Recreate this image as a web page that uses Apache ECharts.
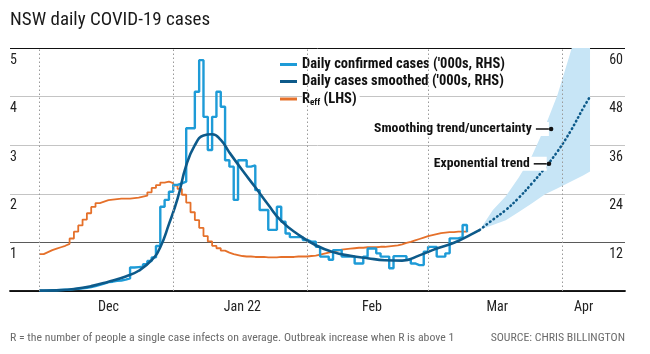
<!DOCTYPE html>
<html>
<head>
<meta charset="utf-8">
<script src="https://cdn.jsdelivr.net/npm/echarts@6/dist/echarts.min.js"></script>
<style>
html, body { margin: 0; padding: 0; background: #fff; }
#chart { width: 650px; height: 354px; }
</style>
</head>
<body>
<div id="chart"></div>
<script>
// day 0 = 1 Dec 2021
const monthStarts = [0, 31, 62, 90, 121];
const monthLabelDays = [16, 47, 77, 106, 126];
const monthLabels = ['Dec', 'Jan 22', 'Feb', 'Mar', 'Apr'];

// daily confirmed cases ('000s), one value per day from day 0
const dailyCases = [
  0.1, 0.15, 0.2, 0.2, 0.25, 0.3, 0.35, 0.45, 0.55, 0.65,
  0.8, 1.0, 1.2, 1.5, 1.8, 2.2, 2.3, 2.5, 2.6, 2.8,
  3.1, 5.8, 5.9, 6.0, 6.6, 7.4, 8.3, 11.1, 20.8, 22.5,
  24.5, 26.2, 26.6, 27.0, 40.2, 40.2, 49.2, 57.0, 43.0, 34.8,
  43.0, 49.2, 45.5, 32.3, 30.7, 22.5, 32.3, 32.3, 30.7, 31.0,
  24.9, 20.0, 20.0, 15.1, 15.1, 20.8, 17.1, 14.2, 13.3, 13.3,
  13.3, 12.6, 12.2, 12.2, 10.9, 8.5, 8.5, 7.7, 10.1, 10.1,
  8.5, 8.5, 8.5, 6.8, 6.8, 8.5, 10.5, 10.5, 9.3, 8.5,
  8.5, 5.6, 8.6, 8.6, 8.6, 7.7, 6.8, 6.4, 6.4, 9.7,
  10.9, 10.9, 8.5, 8.5, 9.3, 13.0, 13.0, 13.3, 16.3, 14.5
];

// effective reproduction number, one value per day from day 0
const rEff = [
  0.76, 0.80, 0.84, 0.87, 0.90, 0.93, 0.97, 1.08, 1.22, 1.35,
  1.47, 1.60, 1.73, 1.81, 1.84, 1.87, 1.88, 1.89, 1.90, 1.90,
  1.90, 1.91, 1.92, 1.94, 1.96, 2.03, 2.12, 2.18, 2.23, 2.25,
  2.22, 2.17, 2.10, 1.98, 1.82, 1.62, 1.46, 1.30, 1.13, 1.02,
  0.93, 0.88, 0.83, 0.79, 0.76, 0.74, 0.72, 0.71, 0.71, 0.70,
  0.70, 0.70, 0.69, 0.69, 0.69, 0.70, 0.70, 0.70, 0.70, 0.71,
  0.71, 0.71, 0.72, 0.73, 0.75, 0.77, 0.79, 0.81, 0.83, 0.85,
  0.86, 0.87, 0.88, 0.89, 0.89, 0.90, 0.90, 0.90, 0.91, 0.91,
  0.92, 0.93, 0.94, 0.96, 0.99, 1.01, 1.04, 1.07, 1.10, 1.13,
  1.15, 1.17, 1.19, 1.20, 1.21, 1.21, 1.22, 1.22, 1.22, 1.22
];

// smoothed cases ('000s)
const smoothDays = [0, 4, 8, 12, 16, 20, 23, 26, 28, 30, 32, 34, 36, 38, 40, 42, 44, 47, 50, 53, 56, 60, 64, 68, 72, 76, 80, 84, 88, 92, 96, 100, 102];
const smoothVals = [0.1, 0.2, 0.5, 1.2, 2.3, 3.6, 5.0, 7.6, 10.8, 16.5, 22.8, 31, 36, 38.4, 38.7, 37.3, 34.2, 29.8, 25.6, 21.3, 17.3, 13.9, 11.3, 9.6, 8.7, 8.1, 7.6, 7.5, 8.8, 10.5, 11.9, 14.0, 15.1];

// exponential trend and uncertainty band ('000s)
const trendDays = [102, 105, 108, 111, 114, 117, 120, 123, 126, 127.5];
const trendVals = [15.1, 17.6, 20.0, 23.0, 26.5, 30.3, 34.5, 39.5, 45.3, 48.0];
const bandLow = [15.1, 16.3, 17.5, 19.5, 21.6, 23.8, 25.4, 27.0, 28.6, 29.5];
const bandHigh = [15.1, 20.0, 23.4, 28.0, 33.3, 40.3, 48.5, 59.0, 70.0, 76.0];

const noteTexts = ['Smoothing trend/uncertainty', 'Exponential trend'];
const noteDays = [118.5, 118];
const noteVals = [40.0, 31.4];

const FONT = '"Liberation Sans Narrow", "Roboto Condensed", Roboto, sans-serif';
const casesName = "Daily confirmed cases ('000s, RHS)";
const smoothName = "Daily cases smoothed ('000s, RHS)";
const rName = 'Reff (LHS)';

const chart = echarts.init(document.getElementById('chart'));

const xBase = { type: 'value', min: -6.8, max: 135.6 };

chart.setOption({
  animation: false,
  textStyle: { fontFamily: FONT },
  title: [
    { text: 'NSW daily COVID-19 cases', left: 10, top: 11, padding: 0,
      textStyle: { fontFamily: FONT, fontSize: 19, fontWeight: 'normal', color: '#1a1a1a' } },
    { text: 'R = the number of people a single case infects on average. Outbreak increase when R is above 1', left: 10, top: 332, padding: 0,
      textStyle: { fontFamily: FONT, fontSize: 11.8, fontWeight: 'normal', color: '#6b6b6b' } },
    { text: 'SOURCE: CHRIS BILLINGTON', right: 25, top: 332, padding: 0,
      textStyle: { fontFamily: FONT, fontSize: 11.8, fontWeight: 'normal', color: '#6b6b6b' } }
  ],
  grid: { left: 10, right: 25, top: 48, bottom: 63 },
  legend: {
    orient: 'vertical', left: 275, top: 52,
    itemWidth: 17, itemHeight: 3, itemGap: 2, icon: 'rect',
    data: [casesName, smoothName, rName],
    formatter: name => name === rName ? '{r|R}{s|eff}{r| (LHS)}' : name,
    textStyle: {
      fontFamily: FONT, fontSize: 14.5, fontWeight: 'bold', color: '#111',
      backgroundColor: '#fff', padding: [0, 3, 0, 0],
      rich: {
        r: { fontFamily: FONT, fontSize: 14.5, fontWeight: 'bold', color: '#111', lineHeight: 16 },
        s: { fontFamily: FONT, fontSize: 9, fontWeight: 'bold', color: '#111', lineHeight: 9, verticalAlign: 'bottom' }
      }
    }
  },
  xAxis: [
    Object.assign({}, xBase, {
      position: 'bottom',
      axisLine: { show: true, lineStyle: { color: '#111', width: 1.5 } },
      axisTick: { show: false },
      splitLine: { show: false },
      axisLabel: {
        customValues: monthLabelDays,
        formatter: v => monthLabels[monthLabelDays.indexOf(v)] || '',
        fontFamily: FONT, fontSize: 14, color: '#222', margin: 9
      }
    }),
    Object.assign({}, xBase, {
      position: 'top',
      axisLine: { show: true, lineStyle: { color: '#111', width: 1.5 } },
      axisTick: { show: false },
      axisLabel: { show: false },
      splitLine: { show: false }
    })
  ],
  yAxis: [
    {
      type: 'value', min: 0, max: 5, interval: 1, position: 'left',
      axisLine: { show: false }, axisTick: { show: false },
      axisLabel: {
        inside: true, margin: 0, verticalAlign: 'top', padding: [5, 0, 0, 0],
        formatter: v => v === 0 ? '' : v,
        fontFamily: FONT, fontSize: 14, color: '#222'
      },
      splitLine: { show: true, lineStyle: { color: ['#111', '#5a5a5a', '#c4c4c4', '#c4c4c4', '#c4c4c4', '#111'], width: 1 } }
    },
    {
      type: 'value', min: 0, max: 60, interval: 12, position: 'right',
      axisLine: { show: false }, axisTick: { show: false },
      axisLabel: {
        inside: true, margin: 2, verticalAlign: 'top', padding: [5, 0, 0, 0],
        formatter: v => v === 0 ? '' : v,
        fontFamily: FONT, fontSize: 14, color: '#222'
      },
      splitLine: { show: false }
    }
  ],
  series: [
    {
      name: 'band', type: 'custom', yAxisIndex: 1, silent: true, clip: true,
      data: [0],
      renderItem: (params, api) => {
        const upper = trendDays.map((d, i) => api.coord([d, bandHigh[i]]));
        const lower = trendDays.map((d, i) => api.coord([d, bandLow[i]])).reverse();
        const cs = params.coordSys;
        return {
          type: 'polygon',
          shape: { points: upper.concat(lower) },
          style: { fill: '#c7e5f6' },
          clipPath: { type: 'rect', shape: { x: cs.x, y: cs.y, width: cs.width, height: cs.height } }
        };
      }
    },
    {
      name: rName, type: 'line', yAxisIndex: 0, step: 'end',
      data: rEff.map((v, i) => [i, v]),
      symbol: 'none',
      itemStyle: { color: '#e5702a' },
      lineStyle: { color: '#e5702a', width: 1.8 },
      markLine: {
        silent: true, symbol: 'none',
        label: { show: false },
        lineStyle: { color: '#9a9a9a', type: [1.5, 2.5], width: 1 },
        data: monthStarts.map(d => ({ xAxis: d }))
      }
    },
    {
      name: casesName, type: 'line', yAxisIndex: 1, step: 'end',
      data: dailyCases.map((v, i) => [i, v]),
      symbol: 'none',
      itemStyle: { color: '#1e9bd7' },
      lineStyle: { color: '#1e9bd7', width: 2.4 }
    },
    {
      name: smoothName, type: 'line', yAxisIndex: 1, smooth: 0.5,
      data: smoothDays.map((d, i) => [d, smoothVals[i]]),
      symbol: 'none',
      itemStyle: { color: '#0d5a8a' },
      lineStyle: { color: '#0d5a8a', width: 2.6 }
    },
    {
      name: 'trend', type: 'line', yAxisIndex: 1, smooth: 0.4,
      data: trendDays.map((d, i) => [d, trendVals[i]]),
      symbol: 'none',
      itemStyle: { color: '#0d5a8a' },
      lineStyle: { color: '#0d5a8a', width: 2.6, type: [0.5, 3.8], cap: 'round' },
      markPoint: {
        symbol: 'circle', symbolSize: 4.5,
        itemStyle: { color: '#111' },
        label: {
          show: true, position: 'left', distance: 0,
          formatter: p => '{t|' + p.name + '}{g|}{l|}',
          backgroundColor: '#fff',
          rich: {
            t: { fontFamily: FONT, fontSize: 13.7, fontWeight: 'bold', color: '#111' },
            g: { width: 4 },
            l: { width: 13, height: 1.5, backgroundColor: '#111' }
          }
        },
        data: noteTexts.map((t, i) => ({ name: t, coord: [noteDays[i], noteVals[i]] }))
      }
    }
  ]
});
</script>
</body>
</html>
